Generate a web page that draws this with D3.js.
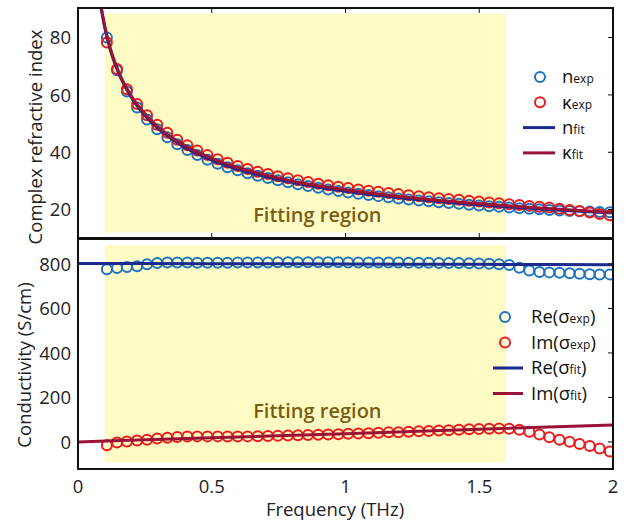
<!DOCTYPE html>
<html lang="en">
<head>
    <meta charset="UTF-8">
    <title>Complex refractive index and conductivity</title>
    <script src="https://d3js.org/d3.v7.min.js"></script>
    <style>
        body { margin: 0; background: #fff; }
        svg { display: block; font-family: "Open Sans", "Noto Sans", sans-serif; }
        .tick-label { font-size: 18.5px; fill: #222; }
        .axis-title { font-size: 18.5px; fill: #222; }
        .region-label { font-size: 20px; font-weight: 600; fill: #7d5c12; }
        .legend text { font-size: 18.5px; fill: #111; }
    </style>
</head>
<body>
<svg id="chart" width="627" height="525"></svg>
<script>
// frequency grid of the measured points (THz)
var freq = [0.108, 0.146, 0.183, 0.221, 0.258, 0.296, 0.334, 0.371, 0.409, 0.446,
            0.484, 0.522, 0.559, 0.597, 0.634, 0.672, 0.710, 0.747, 0.785, 0.822,
            0.860, 0.898, 0.935, 0.973, 1.010, 1.048, 1.086, 1.123, 1.161, 1.198,
            1.236, 1.274, 1.311, 1.349, 1.386, 1.424, 1.462, 1.499, 1.537, 1.574,
            1.612, 1.650, 1.687, 1.725, 1.762, 1.800, 1.838, 1.875, 1.913, 1.950, 1.988];

var nExp = [80.0, 68.6, 61.2, 55.6, 51.4, 48.0, 45.2, 42.8, 40.8, 39.0,
            37.4, 36.0, 34.8, 33.7, 32.7, 31.8, 31.0, 30.2, 29.5, 28.8,
            28.2, 27.6, 27.0, 26.5, 26.0, 25.5, 25.1, 24.7, 24.3, 23.9,
            23.5, 23.2, 22.9, 22.6, 22.3, 22.0, 21.7, 21.4, 21.2, 21.0,
            20.7, 20.5, 20.3, 20.1, 19.9, 19.7, 19.5, 19.4, 19.3, 19.2, 19.1];

var kExp = [78.3, 69.0, 62.0, 56.8, 52.9, 49.6, 46.8, 44.4, 42.4, 40.6,
            39.0, 37.6, 36.3, 35.2, 34.2, 33.2, 32.4, 31.6, 30.9, 30.2,
            29.6, 29.0, 28.5, 28.0, 27.5, 27.0, 26.6, 26.2, 25.8, 25.4,
            25.0, 24.7, 24.3, 24.0, 23.7, 23.4, 23.1, 22.8, 22.5, 22.2,
            21.9, 21.6, 21.3, 21.0, 20.7, 20.3, 19.9, 19.5, 19.0, 18.5, 18.0];

var reExp = [776, 782, 786, 790, 799, 804, 806, 806, 806, 805,
             805, 805, 805, 806, 806, 806, 806, 807, 807, 807,
             807, 807, 807, 807, 806, 806, 806, 806, 806, 806,
             805, 805, 805, 804, 804, 804, 803, 802, 801, 799,
             795, 783, 770, 764, 762, 760, 758, 756, 754, 752, 753];

var imExp = [-15, -3, 2, 6, 10, 15, 19, 22, 24, 25,
             25, 25, 24, 24, 25, 26, 27, 28, 29, 30,
             31, 32, 33, 35, 37, 38, 39, 41, 43, 44,
             46, 48, 49, 51, 53, 55, 57, 58, 59, 60,
             59, 55, 46, 33, 21, 10, 1, -9, -18, -29, -43];

// fitted curves
var fitFreqTop = [0.085, 0.1, 0.12, 0.15, 0.2, 0.25, 0.3, 0.4, 0.5, 0.6, 0.7, 0.8, 0.9, 1.0, 1.2, 1.4, 1.6, 1.8, 2.0];
var nFit = [91.0, 83.5, 76.0, 68.0, 59.0, 52.8, 48.2, 41.7, 37.3, 34.0, 31.5, 29.5, 27.8, 26.4, 24.1, 22.4, 21.0, 19.8, 18.8];
var kFit = [91.5, 84.0, 76.5, 68.5, 59.5, 53.4, 48.8, 42.3, 37.9, 34.6, 32.1, 30.0, 28.3, 26.9, 24.6, 22.8, 21.4, 20.1, 19.0];

var fitFreqBot = [0, 0.5, 1.0, 1.5, 2.0];
var reFit = [802, 801, 800, 798, 796];
var imFit = [0, 19, 37, 57, 76];

var fitRegion = [0.1, 1.6];
var xTicks = [0, 0.5, 1, 1.5, 2];
var topTicks = [20, 40, 60, 80];
var botTicks = [0, 200, 400, 600, 800];

var blue = "#1a73c4", red = "#f01818", navy = "#1b2a8f", maroon = "#9a1236";

var svg = d3.select("#chart");
var left = 78, right = 613;

var x = d3.scaleLinear().domain([0, 2]).range([left, right]);

function panel(opt) {
    var y = d3.scaleLinear().domain(opt.domain).range([opt.bottom, opt.top]);
    var g = svg.append("g");

    g.append("clipPath").attr("id", opt.id)
      .append("rect")
        .attr("x", left).attr("y", opt.top)
        .attr("width", right - left).attr("height", opt.bottom - opt.top);

    // fitting region shading
    g.append("rect")
        .attr("x", x(fitRegion[0]))
        .attr("width", x(fitRegion[1]) - x(fitRegion[0]))
        .attr("y", y(opt.shade[1]))
        .attr("height", y(opt.shade[0]) - y(opt.shade[1]))
        .attr("fill", "#fefcc4");

    g.append("text")
        .attr("class", "region-label")
        .attr("x", x(0.655))
        .attr("y", y(opt.labelY))
        .text("Fitting region");

    var plot = g.append("g").attr("clip-path", "url(#" + opt.id + ")");

    var line = d3.line()
        .x(function(d) { return x(d[0]); })
        .y(function(d) { return y(d[1]); })
        .curve(d3.curveMonotoneX);

    // experimental circles
    [[opt.exp[0], blue], [opt.exp[1], red]].forEach(function(s) {
        plot.selectAll(null)
            .data(freq.map(function(f, i) { return [f, s[0][i]]; }))
          .enter().append("circle")
            .attr("cx", function(d) { return x(d[0]); })
            .attr("cy", function(d) { return y(d[1]); })
            .attr("r", 5)
            .attr("fill", "none")
            .attr("stroke", s[1])
            .attr("stroke-width", 2);
    });

    // fit lines
    [[opt.fit[0], navy], [opt.fit[1], maroon]].forEach(function(s) {
        plot.append("path")
            .datum(opt.fitX.map(function(f, i) { return [f, s[0][i]]; }))
            .attr("d", line)
            .attr("fill", "none")
            .attr("stroke", s[1])
            .attr("stroke-width", 3);
    });

    // frame
    g.append("rect")
        .attr("x", left).attr("y", opt.top)
        .attr("width", right - left).attr("height", opt.bottom - opt.top)
        .attr("fill", "none").attr("stroke", "#111").attr("stroke-width", 2);

    // right-hand inward ticks
    g.selectAll(null).data(opt.ticks).enter().append("line")
        .attr("x1", right - 5).attr("x2", right)
        .attr("y1", function(d) { return y(d); })
        .attr("y2", function(d) { return y(d); })
        .attr("stroke", "#111").attr("stroke-width", 1);

    // y tick labels
    g.selectAll(null).data(opt.ticks).enter().append("text")
        .attr("class", "tick-label")
        .attr("x", left - 7)
        .attr("y", function(d) { return y(d); })
        .attr("dy", "0.36em")
        .attr("text-anchor", "end")
        .text(function(d) { return d; });

    g.append("text")
        .attr("class", "axis-title")
        .attr("transform", "translate(" + opt.titleX + "," + opt.titleY + ") rotate(-90)")
        .attr("text-anchor", "middle")
        .text(opt.title);

    return {g: g, y: y};
}

var top = panel({
    id: "clipTop", top: 8, bottom: 238, domain: [10.1, 90.3], shade: [12, 88.3],
    labelY: 15.8, exp: [nExp, kExp], fitX: fitFreqTop, fit: [nFit, kFit],
    ticks: topTicks, titleX: 42, titleY: 137, title: "Complex refractive index"
});

var bot = panel({
    id: "clipBot", top: 239, bottom: 469, domain: [-121.6, 912], shade: [-92, 884],
    labelY: 108, exp: [reExp, imExp], fitX: fitFreqBot, fit: [reFit, imFit],
    ticks: botTicks, titleX: 31, titleY: 365, title: "Conductivity (S/cm)"
});

// x ticks on the top panel (top and bottom edges, inward)
[[8, 5], [238, -5]].forEach(function(t) {
    svg.selectAll(null).data([0.5, 1, 1.5]).enter().append("line")
        .attr("x1", function(d) { return x(d); })
        .attr("x2", function(d) { return x(d); })
        .attr("y1", t[0]).attr("y2", t[0] + t[1])
        .attr("stroke", "#111").attr("stroke-width", 1);
});

// x tick labels
svg.selectAll(null).data(xTicks).enter().append("text")
    .attr("class", "tick-label")
    .attr("x", function(d) { return x(d); })
    .attr("y", 493)
    .attr("text-anchor", "middle")
    .text(function(d) { return d; });

svg.append("text")
    .attr("class", "axis-title")
    .attr("x", 335)
    .attr("y", 516)
    .attr("text-anchor", "middle")
    .text("Frequency (THz)");

// legends
function legend(items, lx, ly, gap, textX, lineX) {
    var lg = svg.append("g").attr("class", "legend");
    items.forEach(function(it, i) {
        var yy = ly + i * gap;
        if (it.type === "circle") {
            lg.append("circle").attr("cx", lx).attr("cy", yy).attr("r", 5)
                .attr("fill", "none").attr("stroke", it.color).attr("stroke-width", 2);
        } else {
            lg.append("line").attr("x1", lineX[0]).attr("x2", lineX[1])
                .attr("y1", yy).attr("y2", yy)
                .attr("stroke", it.color).attr("stroke-width", 3);
        }
        var t = lg.append("text").attr("x", textX).attr("y", yy).attr("dy", "0.35em");
        t.append("tspan").text(it.main);
        t.append("tspan").style("font-size", "12px").text(it.sub);
        if (it.tail) t.append("tspan").text(it.tail);
    });
}

legend([
    {type: "circle", color: blue, main: "n", sub: "exp"},
    {type: "circle", color: red, main: "\u03ba", sub: "exp"},
    {type: "line", color: navy, main: "n", sub: "fit"},
    {type: "line", color: maroon, main: "\u03ba", sub: "fit"}
], 540, 77, 25.3, 562, [523, 555]);

legend([
    {type: "circle", color: blue, main: "Re(\u03c3", sub: "exp", tail: ")"},
    {type: "circle", color: red, main: "Im(\u03c3", sub: "exp", tail: ")"},
    {type: "line", color: navy, main: "Re(\u03c3", sub: "fit", tail: ")"},
    {type: "line", color: maroon, main: "Im(\u03c3", sub: "fit", tail: ")"}
], 505, 317, 25.5, 531, [493, 523]);
</script>
</body>
</html>
